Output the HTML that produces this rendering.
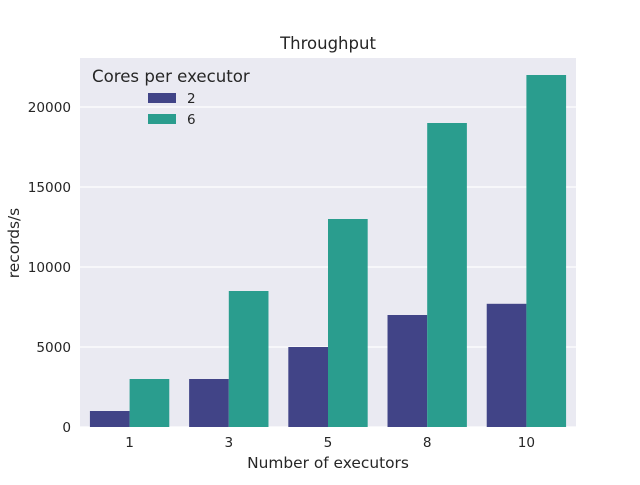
<!DOCTYPE html>
<html><head><meta charset="utf-8"><style>
body{margin:0;background:#fff;}
svg text{font-family:"DejaVu Sans","Liberation Sans",sans-serif;fill:#262626;}
</style></head><body>
<svg width="640" height="480" xmlns="http://www.w3.org/2000/svg">
<rect x="80" y="58" width="496" height="369" fill="#eaeaf2"/>
<g id="grid"></g>
<g id="bars"></g>
<g id="ticks"></g>
<text x="328" y="49" text-anchor="middle" font-size="16.5">Throughput</text>
<text x="328" y="468" text-anchor="middle" font-size="15.4">Number of executors</text>
<text x="19" y="243" text-anchor="middle" font-size="15.4" transform="rotate(-90 19 243)">records/s</text>
<g>
<text x="92" y="82" font-size="16.6">Cores per executor</text>
<rect x="148" y="93" width="28" height="10" fill="#414487"/>
<text x="187" y="103" font-size="13.5">2</text>
<rect x="148" y="114" width="28" height="10" fill="#2a9d8e"/>
<text x="187" y="124" font-size="13.5">6</text>
</g>
</svg>
<script>
const categories=["1","3","5","8","10"];
const cores2=[1000,3000,5000,7000,7700];
const cores6=[3000,8500,13000,19000,22000];
const yTicks=[0,5000,10000,15000,20000];
const NS="http://www.w3.org/2000/svg";
const x0=80,pw=496,y0=427,yScale=v=>y0-v*0.016;
const band=pw/categories.length,bw=band*0.4;
const grid=document.getElementById('grid'),bars=document.getElementById('bars'),ticks=document.getElementById('ticks');
function mk(tag,attrs,parent){const e=document.createElementNS(NS,tag);for(const k in attrs)e.setAttribute(k,attrs[k]);parent.appendChild(e);return e;}
yTicks.forEach(t=>{
  const y=yScale(t);
  const l=mk('line',{x1:x0,x2:x0+pw,y1:y,y2:y,stroke:'#fff','stroke-width':1.2},grid);
  
  
  const tx=mk('text',{x:x0-9,y:y+5,'text-anchor':'end','font-size':13.6},ticks);
  tx.textContent=t;
  
  
});
categories.forEach((c,i)=>{
  const cx=x0+band*(i+0.5);
  const r1=mk('rect',{x:cx-bw,y:yScale(cores2[i]),width:bw,height:y0-yScale(cores2[i]),fill:'#414487'},bars);
  
  
  const r2=mk('rect',{x:cx,y:yScale(cores6[i]),width:bw,height:y0-yScale(cores6[i]),fill:'#2a9d8e'},bars);
  
  
  const tx=mk('text',{x:cx,y:447,'text-anchor':'middle','font-size':13.6},ticks);
  tx.textContent=c;
  
  
});
</script>
</body></html>
